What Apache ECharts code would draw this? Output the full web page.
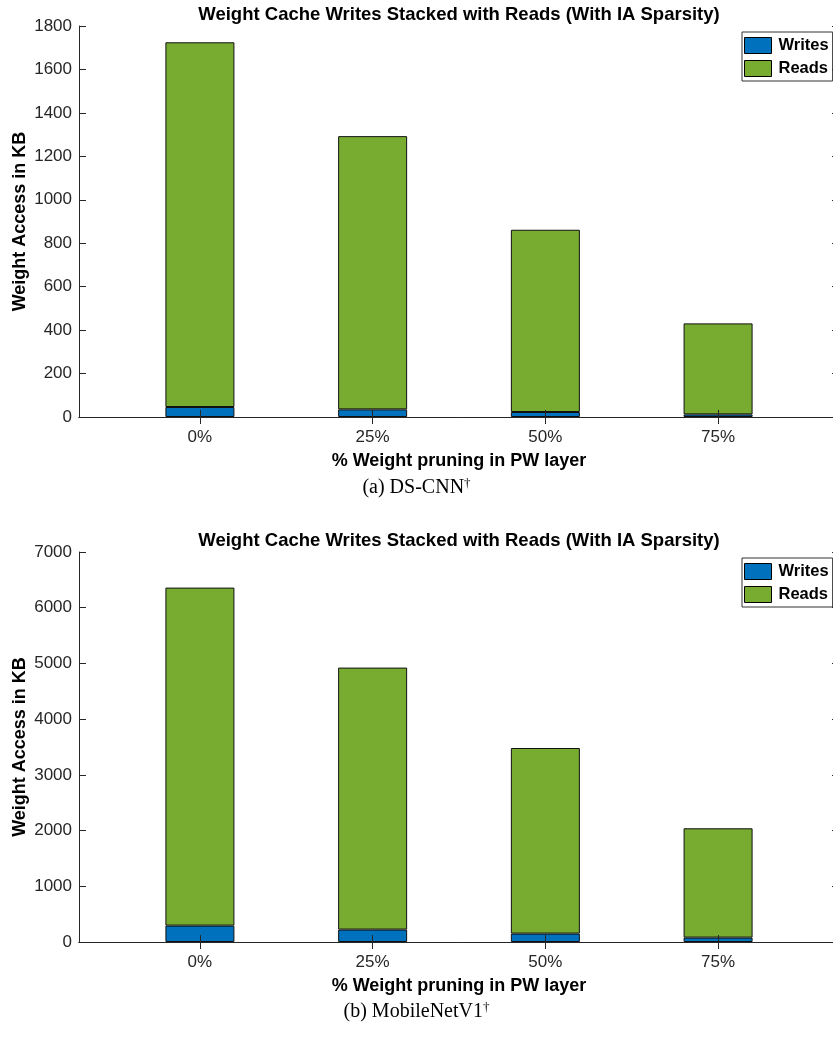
<!DOCTYPE html>
<html><head><meta charset="utf-8">
<script src="https://cdn.jsdelivr.net/npm/echarts@6/dist/echarts.min.js"></script>
<style>html,body{margin:0;padding:0;background:#fff}#c{width:833px;height:1038px}</style>
</head><body><div id="c"></div>
<script>
// ---- data ----
const categories = ['0%', '25%', '50%', '75%'];
const dsWrites = [46, 35, 23, 12];
const dsReads = [1679, 1258, 839, 419];
const mbWrites = [294, 223, 151, 79];
const mbReads = [6067, 4702, 3331, 1962];
const dsYMax = 1800, dsYStep = 200;
const mbYMax = 7000, mbYStep = 1000;
const chartTitle = 'Weight Cache Writes Stacked with Reads (With IA Sparsity)';
const yName = 'Weight Access in KB';
const xName = '% Weight pruning in PW layer';
const captions = ['(a) DS-CNN', '(b) MobileNetV1'];

const FONT = '"Liberation Sans", Arial, Helvetica, sans-serif';
const AX = '#262626';
const BLUE = '#0072BD', GREEN = '#77AC30';
const tickPos = categories.map((c, i) => i + 1);

// frame: x range 0.3 .. 4.7 over 760px; bars live in a hidden category grid spanning 0.5 .. 4.5
const FL = 79, FW = 760, XMIN = 0.3, XMAX = 4.7;
const unit = FW / (XMAX - XMIN);
const BL = FL + (0.5 - XMIN) * unit, BW = categories.length * unit;
const tops = [26, 552], heights = [391, 390];

const grids = [
  { left: FL, top: tops[0], width: FW, height: heights[0], outerBoundsMode: 'none', containLabel: false },
  { left: FL, top: tops[1], width: FW, height: heights[1], outerBoundsMode: 'none', containLabel: false },
  { left: BL, top: tops[0], width: BW, height: heights[0], outerBoundsMode: 'none', containLabel: false },
  { left: BL, top: tops[1], width: BW, height: heights[1], outerBoundsMode: 'none', containLabel: false }
];

function xAxes(gi) {
  const base = {
    type: 'value', gridIndex: gi, min: XMIN, max: XMAX, z: 5,
    axisLine: { show: true, lineStyle: { color: AX, width: 1 } },
    splitLine: { show: false },
    axisTick: { show: true, inside: true, length: 7, customValues: tickPos, lineStyle: { color: AX } }
  };
  return [
    Object.assign({}, base, {
      position: 'bottom',
      name: xName, nameLocation: 'middle', nameGap: 35, nameMoveOverlap: false,
      nameTextStyle: { fontFamily: FONT, fontSize: 18, fontWeight: 'bold', color: '#000' },
      axisLabel: { show: true, customValues: tickPos, margin: 12, color: AX, fontFamily: FONT, fontSize: 17,
        formatter: v => categories[Math.round(v) - 1] }
    }),
    Object.assign({}, base, { position: 'top', axisLabel: { show: false } })
  ];
}
function yAxes(gi, max, step) {
  const base = {
    type: 'value', gridIndex: gi, min: 0, max: max, interval: step, z: 5,
    axisLine: { show: true, lineStyle: { color: AX, width: 1 } },
    splitLine: { show: false },
    axisTick: { show: true, inside: true, length: 7, lineStyle: { color: AX } }
  };
  return [
    Object.assign({}, base, {
      position: 'left',
      name: yName, nameLocation: 'middle', nameGap: 50, nameMoveOverlap: false,
      nameTextStyle: { fontFamily: FONT, fontSize: 18, fontWeight: 'bold', color: '#000' },
      axisLabel: { show: true, margin: 7, color: AX, fontFamily: FONT, fontSize: 17, formatter: v => String(v) }
    }),
    Object.assign({}, base, { position: 'right', axisLabel: { show: false } })
  ];
}
function hiddenX(gi) {
  return { type: 'category', gridIndex: gi, data: categories, show: false };
}
function hiddenY(gi, max) {
  return { type: 'value', gridIndex: gi, min: 0, max: max, show: false, splitLine: { show: false } };
}

function barSeries(name, vals, color, ai, stack) {
  return {
    type: 'bar', name: name, stack: stack, xAxisIndex: ai, yAxisIndex: ai,
    barWidth: 69,
    itemStyle: { color: color, borderColor: '#111', borderWidth: 1 },
    data: vals
  };
}

function legend(top) {
  return {
    left: 742, top: top, orient: 'vertical',
    data: ['Writes', 'Reads'],
    icon: 'rect', itemWidth: 27, itemHeight: 16, itemGap: 6,
    padding: [5, 4, 4, 2],
    borderColor: '#333', borderWidth: 1, backgroundColor: '#fff',
    itemStyle: { borderColor: '#000', borderWidth: 1 },
    textStyle: { fontFamily: FONT, fontSize: 16.5, fontWeight: 'bold', color: '#000', lineHeight: 16, padding: [0, 0, 0, 2] },
    selectedMode: false
  };
}

const titleStyle = { fontFamily: FONT, fontSize: 18.5, fontWeight: 'bold', color: '#000' };
const option = {
  animation: false,
  backgroundColor: '#fff',
  title: [
    { text: chartTitle, left: FL + FW / 2, top: 5, textAlign: 'center', padding: 0, textStyle: titleStyle },
    { text: chartTitle, left: FL + FW / 2, top: 531, textAlign: 'center', padding: 0, textStyle: titleStyle }
  ],
  grid: grids,
  xAxis: xAxes(0).concat(xAxes(1), [hiddenX(2), hiddenX(3)]),
  yAxis: yAxes(0, dsYMax, dsYStep).concat(yAxes(1, mbYMax, mbYStep), [hiddenY(2, dsYMax), hiddenY(3, mbYMax)]),
  legend: [legend(32), legend(558)],
  series: [
    barSeries('Writes', dsWrites, BLUE, 4, 'a'),
    barSeries('Reads', dsReads, GREEN, 4, 'a'),
    barSeries('Writes', mbWrites, BLUE, 5, 'b'),
    barSeries('Reads', mbReads, GREEN, 5, 'b')
  ],
  graphic: captions.map((t, i) => ({
    type: 'text', left: 'center', top: i === 0 ? 477 : 1001,
    style: {
      text: '{m|' + t + '}{s|\u2020}',
      rich: {
        m: { fontFamily: '"Liberation Serif", "Times New Roman", serif', fontSize: 20, fill: '#000', verticalAlign: 'bottom' },
        s: { fontFamily: '"Liberation Serif", "Times New Roman", serif', fontSize: 13, fill: '#000', verticalAlign: 'top', padding: [0, 0, 8, 0] }
      }
    }
  }))
};

const chart = echarts.init(document.getElementById('c'), null, { renderer: 'canvas' });
chart.setOption(option);
</script>
</body></html>
